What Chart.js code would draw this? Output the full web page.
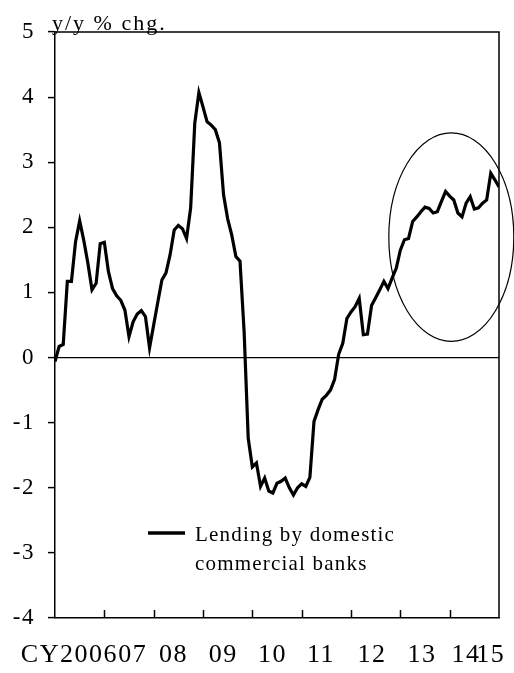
<!DOCTYPE html>
<html>
<head>
<meta charset="utf-8">
<script src="https://cdn.jsdelivr.net/npm/chart.js@4/dist/chart.umd.min.js"></script>
<style>
html,body{margin:0;padding:0;background:#fff;}
#wrap{width:514px;height:673px;position:relative;}
</style>
</head>
<body>
<div id="wrap"><canvas id="c" width="514" height="673"></canvas></div>
<script>
// Monthly, CY2006 Jan (index 0) to CY2015 Jan (index 108)
const lending = [
  -0.06, 0.17, 0.20, 1.17, 1.17, 1.78, 2.10, 1.80, 1.45, 1.04, 1.14, 1.75,
  1.77, 1.32, 1.06, 0.95, 0.88, 0.73, 0.32, 0.55, 0.67, 0.72, 0.63, 0.15,
  0.50, 0.85, 1.19, 1.30, 1.58, 1.96, 2.03, 1.98, 1.83, 2.30, 3.60, 4.07,
  3.85, 3.62, 3.57, 3.50, 3.30, 2.50, 2.13, 1.88, 1.55, 1.48, 0.40, -1.24,
  -1.68, -1.62, -1.98, -1.85, -2.05, -2.08, -1.93, -1.90, -1.85, -2.00, -2.11, -2.00,
  -1.94, -1.98, -1.84, -0.98, -0.80, -0.64, -0.58, -0.50, -0.34, 0.05, 0.22, 0.60,
  0.70, 0.78, 0.91, 0.35, 0.36, 0.80, 0.92, 1.04, 1.17, 1.06, 1.22, 1.37,
  1.65, 1.81, 1.83, 2.09, 2.16, 2.24, 2.31, 2.29, 2.22, 2.24, 2.40, 2.55,
  2.48, 2.42, 2.22, 2.16, 2.37, 2.47, 2.28, 2.30, 2.37, 2.42, 2.83, 2.73,
  2.62
];
const yearLabels = ['CY2006','07','08','09','10','11','12','13','14','15'];
const seriesName = ['Lending by domestic', 'commercial banks'];
const yTitle = 'y/y % chg.';

// options-side settings (positions in month-index units)
const labelAt = [3.5, 18.9, 28.8, 40.9, 52.9, 64.7, 77.1, 89.3, 100.0, 106.0];
const yearTicks = [12, 24, 36, 48, 60, 72, 84, 96];
const ring = {cx: 96.4, cy: 1.85, rx: 15.2, ry: 1.6};

const FONT = '"Liberation Serif", "Times New Roman", serif';

const spacing = {
  id: 'spacing',
  beforeDraw(chart) { chart.ctx.letterSpacing = '1.5px'; }
};

const decor = {
  id: 'decor',
  afterDatasetsDraw(chart) {
    const {ctx, chartArea: a, scales: {x, y}} = chart;
    ctx.save();
    // frame top/right
    ctx.strokeStyle = '#000';
    ctx.lineWidth = 1.5;
    ctx.beginPath();
    ctx.moveTo(a.left, a.top); ctx.lineTo(a.right, a.top); ctx.lineTo(a.right, a.bottom);
    ctx.stroke();
    // inward x tick marks
    yearTicks.forEach(v => {
      const px = Math.round(x.getPixelForValue(v)) + 0.5;
      ctx.beginPath(); ctx.moveTo(px, a.bottom); ctx.lineTo(px, a.bottom - 8); ctx.stroke();
    });
    // ellipse annotation
    const ex = x.getPixelForValue(ring.cx), ey = y.getPixelForValue(ring.cy);
    const erx = x.getPixelForValue(ring.cx + ring.rx) - ex;
    const ery = ey - y.getPixelForValue(ring.cy + ring.ry);
    ctx.lineWidth = 1.2;
    ctx.beginPath(); ctx.ellipse(ex, ey, erx, ery, 0, 0, Math.PI * 2); ctx.stroke();
    // y title
    ctx.fillStyle = '#000';
    ctx.letterSpacing = '2px';
    ctx.font = '22px ' + FONT;
    ctx.textAlign = 'left'; ctx.textBaseline = 'alphabetic';
    ctx.fillText(yTitle, 52, 30);
    // legend
    ctx.lineWidth = 3.5;
    ctx.beginPath(); ctx.moveTo(148, 533); ctx.lineTo(185, 533); ctx.stroke();
    ctx.letterSpacing = '1.2px';
    ctx.font = '21px ' + FONT;
    ctx.fillText(seriesName[0], 195, 541);
    ctx.fillText(seriesName[1], 195, 570);
    ctx.restore();
  }
};

new Chart(document.getElementById('c'), {
  type: 'line',
  data: {
    datasets: [{
      label: seriesName.join(' '),
      data: lending.map((v, i) => ({x: i, y: v})),
      borderColor: '#000',
      borderWidth: 3.2,
      pointRadius: 0,
      tension: 0,
      fill: false
    }]
  },
  options: {
    responsive: false,
    animation: false,
    events: [],
    layout: {padding: {top: 32, right: 15, left: 0, bottom: 0}},
    plugins: {legend: {display: false}, tooltip: {enabled: false}, title: {display: false}},
    scales: {
      x: {
        type: 'linear',
        min: 0, max: 108,
        afterBuildTicks: s => { s.ticks = labelAt.map(v => ({value: v})); },
        afterFit: s => { s.height = 55; s.paddingLeft = 0; s.paddingRight = 0; },
        grid: {display: false, drawTicks: false},
        border: {display: true, color: '#000', width: 1.5},
        ticks: {
          autoSkip: false, maxRotation: 0, minRotation: 0,
          padding: 22,
          color: '#000',
          font: {family: FONT, size: 26},
          callback: (v, i) => yearLabels[i]
        }
      },
      y: {
        min: -4, max: 5,
        afterFit: s => { s.width = 55; s.paddingTop = 0; s.paddingBottom = 0; },
        ticks: {stepSize: 1, color: '#000', padding: 13, font: {family: FONT, size: 23}},
        grid: {
          drawOnChartArea: true,
          drawTicks: true,
          tickLength: 7,
          tickColor: '#000',
          tickWidth: 1.5,
          color: c => (c.tick && c.tick.value === 0) ? '#000' : 'rgba(0,0,0,0)',
          lineWidth: 1.2
        },
        border: {display: true, color: '#000', width: 1.5}
      }
    }
  },
  plugins: [spacing, decor]
});
</script>
</body>
</html>
